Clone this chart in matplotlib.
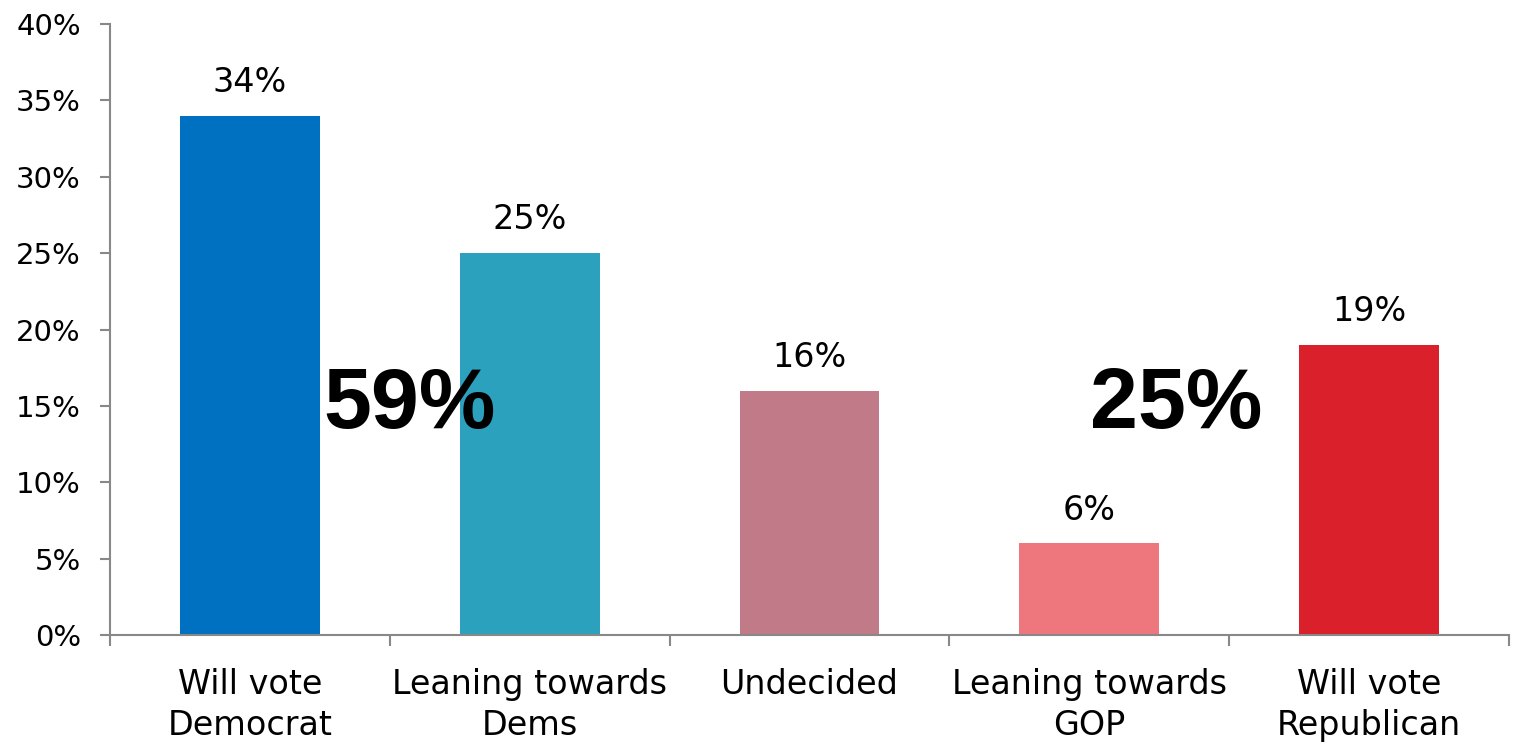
import matplotlib.pyplot as plt
from matplotlib.ticker import FixedLocator, PercentFormatter

plt.rcParams['font.family'] = ['DejaVu Sans']

categories = ['Will vote\nDemocrat', 'Leaning towards\nDems', 'Undecided',
              'Leaning towards\nGOP', 'Will vote\nRepublican']
values = [34, 25, 16, 6, 19]
colors = ['#0070C0', '#2CA1BE', '#C07A88', '#EE777D', '#D9202B']
totals = ['59%', '25%']
total_pos = [(0.57, 15.0), (3.31, 15.0)]

fig = plt.figure(figsize=(15.15, 7.46), dpi=100)
ax = fig.add_axes([0.0726, 0.1488, 0.9234, 0.819])

x = range(len(values))
bars = ax.bar(x, values, width=0.5, color=colors)
for b, v in zip(bars, values):
    ax.annotate(f'{v}%', (b.get_x() + b.get_width() / 2, v), xytext=(0, 12),
                textcoords='offset points', ha='center', va='bottom', fontsize=24)

for t, (tx, ty) in zip(totals, total_pos):
    ax.text(tx, ty, t, ha='center', va='center', fontsize=62, fontweight='bold',
            family=['Liberation Sans', 'DejaVu Sans'])

ax.set_xlim(-0.5, len(values) - 0.5)
ax.set_ylim(0, 40)
ax.yaxis.set_major_formatter(PercentFormatter(decimals=0))
ax.set_yticks(range(0, 41, 5))
ax.tick_params(axis='y', labelsize=21, length=7, color='#888888', width=1.5, pad=14)

ax.xaxis.set_major_locator(FixedLocator([i - 0.5 for i in range(len(values) + 1)]))
ax.xaxis.set_minor_locator(FixedLocator(list(x)))
ax.set_xticklabels([], minor=False)
ax.set_xticklabels(categories, minor=True, fontsize=24, linespacing=1.3)
ax.tick_params(axis='x', which='major', length=8, color='#888888', width=1.5)
ax.tick_params(axis='x', which='minor', length=0, pad=24)

for s in ['top', 'right']:
    ax.spines[s].set_visible(False)
for s in ['left', 'bottom']:
    ax.spines[s].set_color('#888888')
    ax.spines[s].set_linewidth(1.5)

fig.savefig('out.png', dpi=100)
